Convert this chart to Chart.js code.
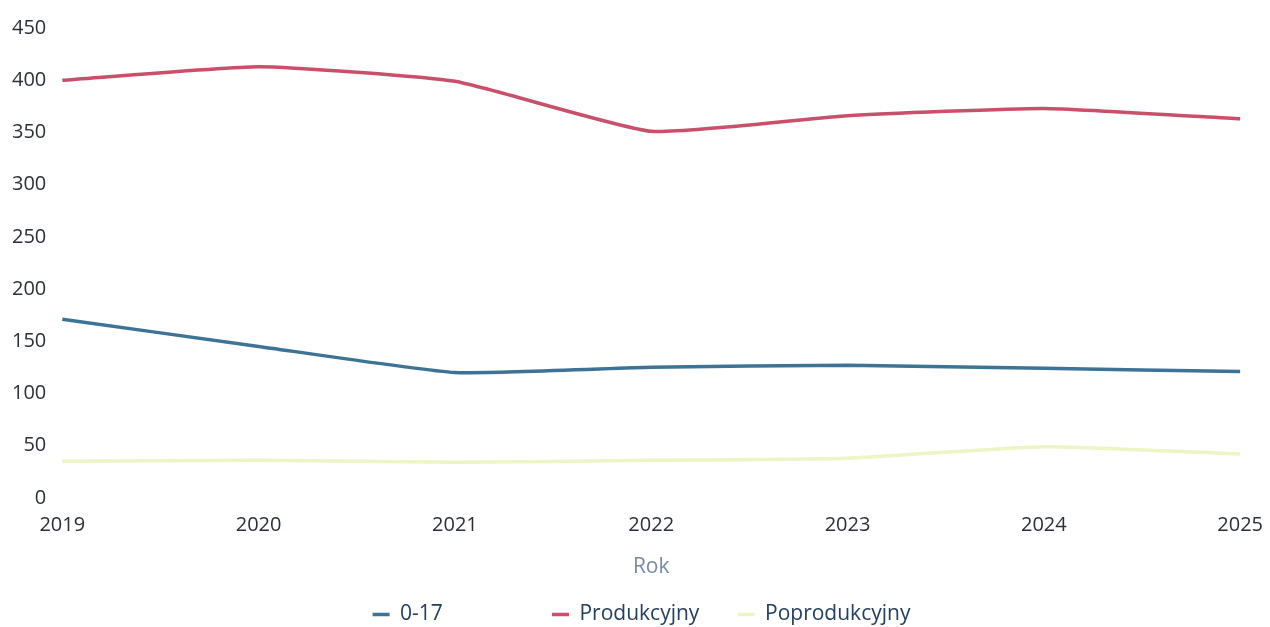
<!DOCTYPE html>
<html>
<head>
<meta charset="utf-8">
<script src="https://cdn.jsdelivr.net/npm/chart.js@4"></script>
<style>
  html, body { margin: 0; padding: 0; background: #fff; }
  #wrap { width: 1270px; height: 627px; }
</style>
</head>
<body>
<div id="wrap"><canvas id="chart"></canvas></div>
<script>
const years = ['2019', '2020', '2021', '2022', '2023', '2024', '2025'];
const kids = [171, 145, 120, 125, 127, 124, 121];
const working = [400, 413, 399, 351, 366, 373, 363];
const retired = [35, 36, 34, 36, 38, 49, 42];
// extra trailing room after each legend entry, as in the original layout
const legendGaps = [20, 7, 0];

Chart.defaults.font.family = "'Open Sans', sans-serif";
Chart.defaults.font.size = 20;
Chart.defaults.color = '#2b2f38';

// nudge the legend a bit right and down, like the original
const legendShift = {
  id: 'legendShift',
  afterLayout(chart) {
    chart.legend.left += 16;
    chart.legend.right += 16;
    chart.legend.top += 8;
    chart.legend.bottom += 8;
  }
};

const ctx = document.getElementById('chart').getContext('2d');
new Chart(ctx, {
  type: 'line',
  data: {
    labels: years,
    datasets: [
      { label: '0-17', data: kids, borderColor: '#3d7396', backgroundColor: '#3d7396', borderWidth: 3.5 },
      { label: 'Produkcyjny', data: working, borderColor: '#c9506a', backgroundColor: '#c9506a', borderWidth: 3.5 },
      { label: 'Poprodukcyjny', data: retired, borderColor: '#eef4c4', backgroundColor: '#eef4c4', borderWidth: 3.5 }
    ]
  },
  plugins: [legendShift],
  options: {
    responsive: true,
    maintainAspectRatio: false,
    animation: false,
    layout: { padding: { top: 28, right: 23, left: 4, bottom: 0 } },
    elements: {
      line: { tension: 0.15 },
      point: { radius: 0 }
    },
    scales: {
      x: {
        offset: false,
        grid: { display: false },
        border: { display: false },
        ticks: { padding: 7, maxRotation: 0 },
        title: { display: true, text: 'Rok', color: '#7a88a6', font: { size: 21 }, padding: { top: 11, bottom: 16 } }
      },
      y: {
        min: 0,
        max: 450,
        grid: { display: false },
        border: { display: false },
        ticks: { stepSize: 50, padding: 8 }
      }
    },
    plugins: {
      legend: {
        position: 'bottom',
        labels: {
          usePointStyle: true,
          pointStyle: 'line',
          pointStyleWidth: 17,
          padding: 0,
          color: '#24405e',
          font: { size: 21 },
          generateLabels: (chart) => {
            const items = Chart.defaults.plugins.legend.labels.generateLabels(chart);
            items.forEach((it, i) => { it.text = it.text + ' '.repeat(legendGaps[i]); });
            return items;
          }
        }
      },
      tooltip: { enabled: false }
    }
  }
});
</script>
</body>
</html>
